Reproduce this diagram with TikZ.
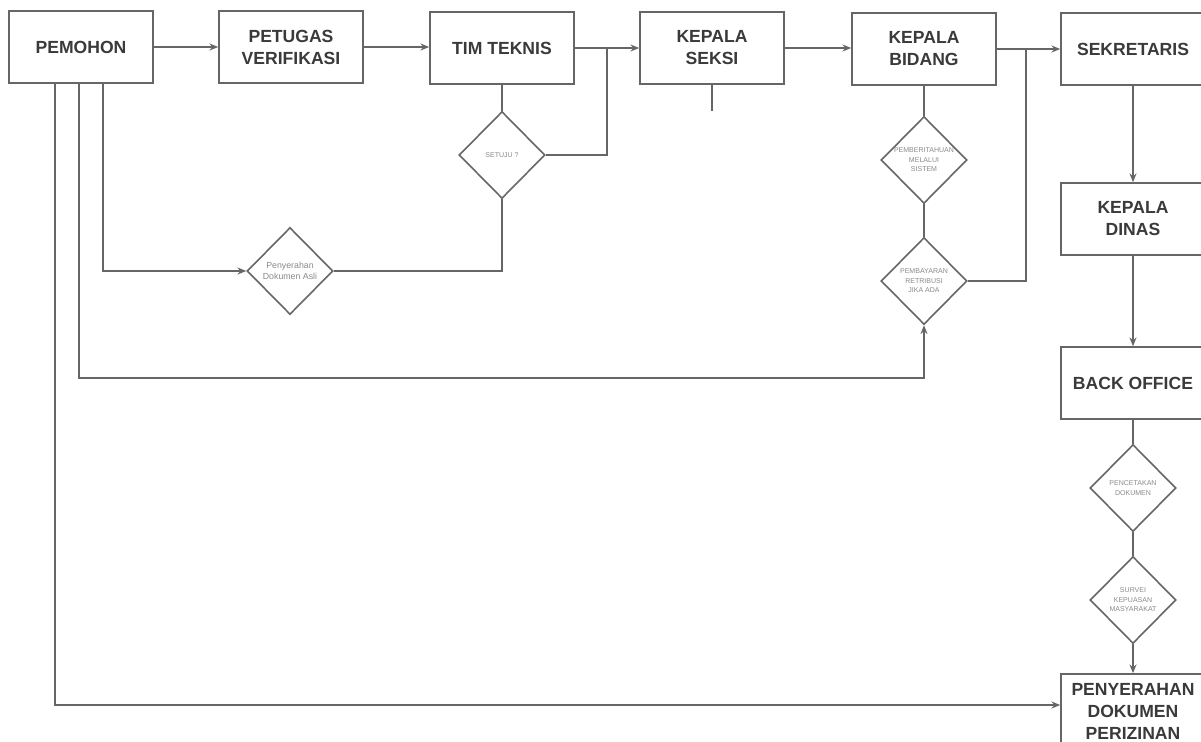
\documentclass[tikz,border=0pt]{standalone}
\usepackage{fontspec}
\setmainfont{Liberation Sans}
\usetikzlibrary{arrows.meta,shapes.geometric,calc}
\definecolor{garis}{HTML}{666666}
\definecolor{teks}{HTML}{3A3A3A}
\definecolor{teksdia}{HTML}{8A8A8A}

\begin{document}
\begin{tikzpicture}[x=0.02cm,y=-0.02cm,line width=0.9pt,
  kotak/.style={draw=garis,fill=white,minimum width=2.88cm,minimum height=1.44cm,align=center,
    text=teks,font=\fontsize{10}{12.5}\selectfont\bfseries},
  dia/.style={diamond,draw=garis,fill=white,aspect=1,minimum width=1.72cm,minimum height=1.74cm,inner sep=0pt},
  diatxt/.style={align=center,text=teksdia,font=\fontsize{4}{5.4}\selectfont},
  panah/.style={draw=garis,-{Stealth[length=5pt,width=4pt]}},
  garisan/.style={draw=garis}]
\useasboundingbox (0,0) rectangle (1201,741);
\fill[white] (0,0) rectangle (1201,741);
\node[kotak] (pemohon) at (81,47) {PEMOHON};
\node[kotak] (petugas) at (291,47) {PETUGAS\\VERIFIKASI};
\node[kotak] (tim) at (502,48) {TIM TEKNIS};
\node[kotak] (seksi) at (712,48) {KEPALA\\SEKSI};
\node[kotak] (bidang) at (924,49) {KEPALA\\BIDANG};
\node[kotak] (sekre) at (1133,49) {SEKRETARIS};
\node[kotak] (dinas) at (1133,219) {KEPALA\\DINAS};
\node[kotak] (back) at (1133,383) {BACK OFFICE};
\node[kotak,minimum height=1.48cm] (serahdok) at (1133,711) {PENYERAHAN\\DOKUMEN\\PERIZINAN};
\node[dia,label={[diatxt]center:SETUJU ?}] (setuju) at (502,155) {};
\node[dia,label={[diatxt,font=\fontsize{5}{6.4}\selectfont]center:Penyerahan\\Dokumen Asli}] (serah) at (290,271) {};
\node[dia,label={[diatxt]center:PEMBERITAHUAN\\MELALUI\\SISTEM}] (beritahu) at (924,160) {};
\node[dia,label={[diatxt]center:PEMBAYARAN\\RETRIBUSI\\JIKA ADA}] (bayar) at (924,281) {};
\node[dia,label={[diatxt]center:PENCETAKAN\\DOKUMEN}] (cetak) at (1133,488) {};
\node[dia,label={[diatxt]center:SURVEI\\KEPUASAN\\MASYARAKAT}] (survei) at (1133,600) {};
\coordinate (j1) at (607,48);
\coordinate (j2) at (1026,49);
\draw[panah] (pemohon) -- (petugas);
\draw[panah] (petugas.east) -- (petugas.east -| tim.west);
\draw[panah] (tim) -- (seksi);
\draw[panah] (seksi.east) -- (seksi.east -| bidang.west);
\draw[panah] (bidang) -- (sekre);
\draw[garisan] (tim.south) -- (setuju.north);
\draw[garisan] (setuju.east) -| (j1);
\draw[garisan] (setuju.south) |- (serah.east);
\draw[garisan] (seksi.south) -- ++(0,26);
\draw[garisan] (bidang.south) -- (beritahu.north);
\draw[garisan] (beritahu.south) -- (bayar.north);
\draw[garisan] (bayar.east) -| (j2);
\draw[panah] ($(pemohon.south)+(22,0)$) |- (serah.west);
\draw[panah] ($(pemohon.south)+(-2,0)$) -- ++(0,294) -| (bayar.south);
\draw[panah] ($(pemohon.south)+(-26,0)$) |- ($(serahdok.west)+(0,-6)$);
\draw[panah] (sekre) -- (dinas);
\draw[panah] (dinas) -- (back);
\draw[garisan] (back) -- (cetak);
\draw[garisan] (cetak) -- (survei);
\draw[panah] (survei) -- (serahdok);
\end{tikzpicture}
\end{document}
